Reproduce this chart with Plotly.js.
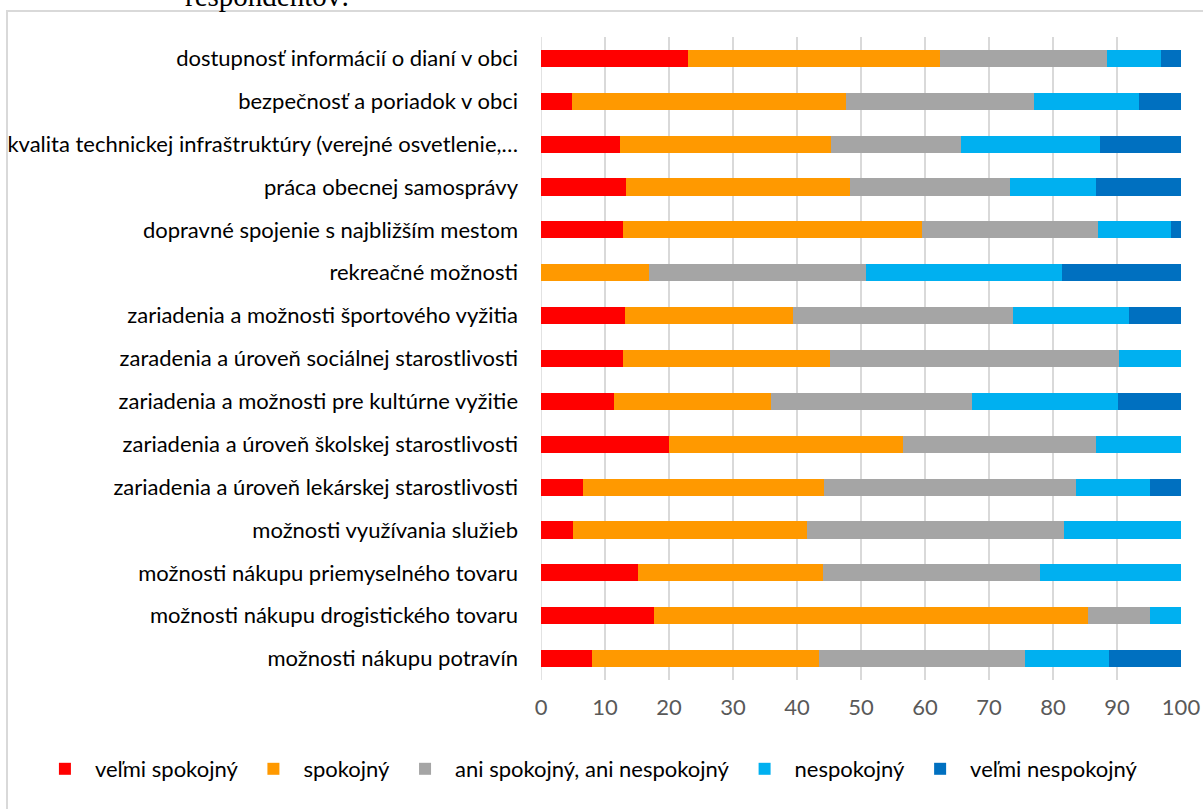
<!DOCTYPE html>
<html>
<head>
<meta charset="utf-8">
<script src="https://cdn.plot.ly/plotly-3.0.1.min.js"></script>
<style>
  html, body { margin: 0; padding: 0; width: 1203px; height: 809px; overflow: hidden; background: #fff; }
  #frame { position: absolute; left: 6px; top: 10px; width: 1300px; height: 900px; border: 2px solid #d9d9d9; box-sizing: border-box; pointer-events: none; }
  #chart { position: absolute; left: 0; top: 0; width: 1203px; height: 809px; }
</style>
</head>
<body>
<div id="frame"></div>
<div id="chart"></div>
<script>
const titleText = "respondentov:";
const categories = [
  "dostupnosť informácií o dianí v obci",
  "bezpečnosť a poriadok v obci",
  "kvalita technickej infraštruktúry (verejné osvetlenie,…",
  "práca obecnej samosprávy",
  "dopravné spojenie s najbližším mestom",
  "rekreačné možnosti",
  "zariadenia a možnosti športového vyžitia",
  "zaradenia a úroveň sociálnej starostlivosti",
  "zariadenia a možnosti pre kultúrne vyžitie",
  "zariadenia a úroveň školskej starostlivosti",
  "zariadenia a úroveň lekárskej starostlivosti",
  "možnosti využívania služieb",
  "možnosti nákupu priemyselného tovaru",
  "možnosti nákupu drogistického tovaru",
  "možnosti nákupu potravín"
];
const seriesNames = ["veľmi spokojný", "spokojný", "ani spokojný, ani nespokojný", "nespokojný", "veľmi nespokojný"];
const velmiSpokojny   = [23.0,  4.9, 12.4, 13.3, 12.8,  0.0, 13.1, 12.8, 11.4, 20.0,  6.6,  5.0, 15.2, 17.7,  8.0];
const spokojny        = [39.3, 42.7, 32.9, 35.0, 46.8, 16.9, 26.2, 32.3, 24.6, 36.6, 37.6, 36.6, 28.9, 67.8, 35.5];
const aniAni          = [26.2, 29.5, 20.3, 25.0, 27.5, 33.9, 34.5, 45.2, 31.3, 30.1, 39.4, 40.1, 33.9,  9.7, 32.2];
const nespokojny      = [ 8.3, 16.3, 21.8, 13.4, 11.3, 30.6, 18.0,  9.7, 22.8, 13.3, 11.6, 18.3, 22.0,  4.8, 13.0];
const velmiNespokojny = [ 3.2,  6.6, 12.6, 13.3,  1.6, 18.6,  8.2,  0.0,  9.9,  0.0,  4.8,  0.0,  0.0,  0.0, 11.3];
const tickValues = [0, 10, 20, 30, 40, 50, 60, 70, 80, 90, 100];
const colors = ["#FF0000", "#FF9900", "#A5A5A5", "#00B0F0", "#0070C0"];
const allSeries = [velmiSpokojny, spokojny, aniAni, nespokojny, velmiNespokojny];

const traces = allSeries.map((vals, i) => ({
  type: "bar",
  orientation: "h",
  name: seriesNames[i],
  x: vals,
  y: categories,
  marker: { color: colors[i], line: { width: 0 } },
  hoverinfo: "x+y+name"
}));

const layout = {
  width: 1203,
  height: 809,
  margin: { l: 541, r: 22, t: 37, b: 129, pad: 0 },
  paper_bgcolor: "rgba(0,0,0,0)",
  plot_bgcolor: "rgba(0,0,0,0)",
  barmode: "stack",
  bargap: 0.6,
  font: { family: "Lato, sans-serif", size: 22, color: "#000" },
  annotations: [{
    text: titleText,
    font: { family: "Liberation Serif, serif", size: 29, color: "#000" },
    xref: "paper", yref: "paper",
    x: (267 - 541) / 640, xanchor: "center",
    y: 1 + (37 - 14) / 643, yanchor: "bottom",
    showarrow: false
  }],
  xaxis: {
    range: [0, 100],
    tickvals: tickValues,
    ticktext: tickValues.map(String),
    showgrid: true,
    gridcolor: "#d9d9d9",
    gridwidth: 1.5,
    zeroline: false,
    showline: false,
    ticks: "",
    ticklabelstandoff: 12,
    tickfont: { family: "Lato, sans-serif", size: 22, color: "#595959" },
    fixedrange: true
  },
  yaxis: {
    type: "category",
    autorange: "reversed",
    showgrid: false,
    zeroline: false,
    showline: false,
    ticks: "",
    ticklabelstandoff: 22,
    tickfont: { family: "Lato, sans-serif", size: 22, color: "#000" },
    fixedrange: true
  },
  showlegend: true,
  legend: {
    orientation: "h",
    x: (75 - 541) / 640 - 0.022 - 26 / 640, xref: "paper", xanchor: "left",
    y: -(769 - 680) / 643, yref: "paper", yanchor: "middle",
    font: { family: "Lato, sans-serif", size: 22, color: "#000" },
    traceorder: "normal",
    itemwidth: 50,
    bgcolor: "rgba(0,0,0,0)"
  },
  shapes: [
    { type: "line", xref: "x", yref: "paper", x0: 0, x1: 0, y0: 0, y1: 1, line: { color: "#d9d9d9", width: 1.5 }, layer: "below" }
  ]
};

Plotly.newPlot("chart", traces, layout, { displayModeBar: false, staticPlot: true });
</script>
</body>
</html>
